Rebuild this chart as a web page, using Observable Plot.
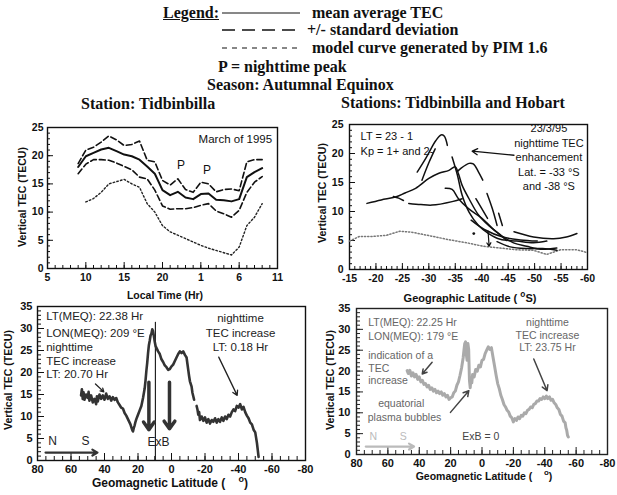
<!DOCTYPE html>
<html><head><meta charset="utf-8">
<script src="https://cdn.jsdelivr.net/npm/d3@7"></script>
<script src="https://cdn.jsdelivr.net/npm/@observablehq/plot@0.6"></script>
<style>
html,body{margin:0;padding:0;background:#fff;}
#root{position:relative;width:617px;height:495px;overflow:hidden;background:#fff;font-family:"Liberation Sans",Arial,sans-serif;color:#111;}
.t{position:absolute;white-space:nowrap;line-height:1;transform:translateY(-50%);}
.c{transform:translate(-50%,-50%);}
.r{transform:translate(-50%,-50%) rotate(-90deg);}
.serif{font-family:"Liberation Serif","Times New Roman",serif;font-weight:bold;font-size:16px;color:#111;}
.ax{font-family:"Liberation Sans",Arial,sans-serif;font-weight:bold;font-size:10.5px;color:#111;}
sup{font-size:0.75em;vertical-align:0.55em;line-height:0;}
</style></head><body><div id="root"></div>
<script>
// ---------- Top-left: Tidbinbilla, March 1995 (hours; 25 = 1 h, 30 = 6 h next day) ----------
const tlHours = [9,10,11,12,13,14,15,16,17,18,19,20,21,22,23,24,25,26,27,28,29,30,31,32,33];
const tlMean  = [18.0,19.9,20.5,21.1,21.4,20.8,20.2,19.9,19.3,18.1,16.8,13.9,13.0,13.6,12.6,12.3,13.2,13.3,12.2,12.1,11.9,12.3,16.2,17.1,17.8];
const tlUpper = [18.6,21.0,21.5,22.4,23.5,22.8,21.8,22.0,22.6,19.2,18.9,15.6,14.8,15.9,14.0,13.5,15.3,15.0,13.6,14.0,14.1,13.8,18.9,19.3,19.3];
const tlLower = [16.8,18.5,19.3,19.3,19.2,18.7,18.1,17.5,16.2,15.9,13.9,11.1,10.5,10.6,10.6,10.8,11.2,11.5,10.2,9.7,9.1,10.3,13.5,15.3,16.3];
const tlModelHours = [10,11,12,13,14,15,16,17,18,19,20,21,22,23,24,25,26,27,28,29,30,31,32,33];
const tlModel = [11.8,12.4,13.5,15.0,15.4,15.8,15.0,14.4,11.5,10.0,7.6,6.5,5.9,5.3,4.7,4.1,3.6,3.2,2.8,2.4,3.8,7.6,9.1,11.5];
const tlTickHours = [5,10,15,20,25,30,35];
const tlTickLabels = ["5","10","15","20","1","6","11"];
const tlYTicks = [0,5,10,15,20,25];
const tlPeaks = [{h:22.4,v:18.4},{h:25.8,v:17.5}];

// ---------- Top-right: Tidbinbilla and Hobart, 23/3/95 (geographic latitude, TEC) ----------
const trModelLat = [-15,-16.9,-19.4,-22,-24.5,-26,-27,-30.8,-34,-37.2,-40.3,-43.5,-46.6,-49.8,-52.3,-54.9,-58,-60];
const trModelTec = [4.9,5.7,5.7,5.9,6.6,6.5,6.4,5.7,5.1,4.6,4.0,3.7,3.4,3.3,2.6,3.4,3.4,2.9];
const trBroad  = [[-18.3,11.4],[-21,12.0],[-23.7,12.5],[-25.5,13.2],[-27.5,14.0],[-30,15.7],[-31.9,16.6],[-33.8,17.1],[-35,17.7],[-35.6,16.5],[-36.3,14.5],[-37.6,12.2],[-39.4,9.4],[-41.3,7.6],[-43.5,6.0],[-46,4.6],[-48.5,4.0],[-51.1,3.5],[-54.2,3.7]];
const trPeakA  = [[-27.8,16.8],[-29.5,19.3],[-31.3,22.2],[-32.3,23.2],[-32.9,23.0],[-33.5,21.4]];
const trPeakB  = [[-28.7,15.4],[-30,18.4],[-31.2,20.8]];
const trPeak38 = [[-35.4,16.9],[-36,17.4],[-37.6,18.3],[-38.4,18.2],[-39.4,16.8],[-40.2,15.4]];
const trFlat   = [[-26.2,11.4],[-28.5,11.2],[-30.6,11.1],[-34.4,11.7],[-36.3,12.2]];
const trBranch = [[-23.3,12.6],[-24.3,12.3],[-25.2,11.9]];
const trSteep1 = [[-34.4,19.4],[-35.4,16.3],[-36.3,12.8],[-37.6,9.9],[-39.4,7.6],[-41.3,6.2],[-43.5,5.2],[-46.6,4.9],[-49.8,4.6],[-52.3,4.9]];
const trSteep2 = [[-33.1,14.0],[-34.4,13.8],[-35.6,12.2],[-37.5,10.5],[-40.1,8.8],[-42,7.1],[-44.7,5.0]];
const trSteep3 = [[-38.9,12.2],[-41.1,8.8]];
const trSteep4 = [[-41,13.1],[-42,10.5],[-42.9,7.6]];
const trSteep5 = [[-43.2,9.7],[-43.9,7.6]];
const trRight  = [[-46.1,6.5],[-49.8,5.6],[-53.6,5.3],[-56,5.6],[-58,6.2]];
const trLow    = [[-42.9,4.8],[-45.4,3.9],[-48.6,3.6],[-51.5,3.6],[-54.2,3.3]];
const trMid    = [[-38,8.5],[-40.5,6.9],[-44,5.6],[-47.3,5.1],[-50.5,4.9]];
const trDots   = [[-38.5,6.2]];
const trTickLats = [-15,-20,-25,-30,-35,-40,-45,-50,-55,-60];
const trYTicks = [0,5,10,15,20,25];

// ---------- Bottom-left: LT(MEQ) 22.38 Hr (geomagnetic latitude, TEC) ----------
const blNorthLat = [54,53.5,53,52.5,52,51,50,49.5,49,48,47,46,45,44.5,44,43,42,41,40,39,38,37,36,35,34,33,32,31,30,29,28,27,26,25,24.5,24,23.5,23,22.5,22,21.5,21,20,19,18,17,16,15.5,15,14.5,14,13.5,13,12.5,12,11.5,11,10.5,10,9.5,9,8,7,6,5,4,3,2,1,0,-1,-2,-3,-4,-5,-6,-7,-8,-9,-9.5,-10,-10.5,-11,-12,-12.5,-13,-13.5];
const blNorthTec = [14.8,16.2,14.0,15.5,13.8,15.0,14.2,15.6,13.6,14.8,13.2,14.0,12.8,14.6,13.4,15.0,14.0,14.8,13.8,15.2,14.0,14.6,13.6,14.4,13.8,14.2,13.2,12.6,12.0,11.8,10.8,10.2,9.4,8.6,8.2,7.6,7.0,6.6,7.4,8.0,8.8,9.4,10.4,11.4,12.4,14.2,16.4,18.2,20.4,22.2,24.4,26.2,27.2,28.4,28.8,29.8,29.4,28.2,27.0,26.0,25.6,24.8,24.2,23.0,22.4,21.6,21.2,20.6,20.8,21.4,21.8,22.6,23.4,24.2,24.8,24.4,24.8,24.0,23.4,22.0,20.6,19.2,18.0,16.8,15.4,14.6,13.8];
const blSouthLat = [-15,-15.5,-16,-16.5,-17,-18,-19,-20,-21,-22,-23,-24,-25,-26,-27,-28,-29,-30,-31,-32,-33,-34,-35,-36,-37,-38,-39,-40,-41,-42,-43,-44,-45,-46,-47,-48,-49,-50,-50.5,-51,-51.5,-52];
const blSouthTec = [12.4,11.6,10.4,11.0,9.2,10.0,9.0,9.8,8.6,9.4,8.4,9.2,8.8,9.6,8.6,9.4,8.8,9.8,9.0,10.0,9.4,10.4,10.0,11.0,11.6,11.2,12.4,12.0,12.8,11.6,12.2,11.0,10.2,9.6,8.6,8.2,7.0,6.4,5.2,4.0,2.4,0.8];
const blDownArrows = [{lat:13.5,from:17.8,to:7.0},{lat:1.2,from:17.8,to:7.2}];
const blVLine = [{lat:9.6,top:31.4}];
const blTickLats = [80,60,40,20,0,-20,-40,-60,-80];
const blYTicks = [0,5,10,15,20,25,30,35];

// ---------- Bottom-right: LT(MEQ) 22.25 Hr ----------
const brLat = [47.7,47,46,45,44,43,42,41,40,39,38,37,36,35,34,33,32,31,30,29,28,27,26,25,24,23,22,21,20,19,18,17,16,15,14,13,12,11.5,11,10.5,10,9.5,9,8.5,8,7.5,7,6.5,6,5,4,3,2,1,0,-1,-2,-3,-4,-5,-6,-7,-8,-9,-10,-11,-12,-13,-14,-15,-16,-17,-18,-19,-20,-21,-22,-23,-24,-25,-26,-27,-28,-29,-30,-31,-32,-33,-34,-35,-36,-37,-38,-39,-40,-41,-42,-43,-44,-45,-46,-47,-48,-49,-50,-51,-52,-53,-53.5,-54,-54.5,-55];
const brTec = [20.1,19.4,20.2,18.8,19.6,18.6,19.2,18.0,18.6,17.4,17.8,16.8,17.0,16.2,16.6,15.6,16.0,15.2,15.6,14.8,15.2,14.6,15.0,14.2,14.6,13.8,14.2,13.2,13.6,13.8,14.8,15.2,16.6,17.4,19.0,20.8,23.2,25.0,26.6,27.0,24.0,22.6,26.6,25.2,17.8,16.0,18.4,17.2,19.2,18.6,20.4,20.0,21.4,21.0,22.6,22.8,24.2,25.0,25.8,25.2,25.6,23.4,21.2,19.0,17.0,15.8,14.2,13.2,12.0,11.4,10.6,10.2,9.2,8.8,7.8,8.6,8.2,9.0,8.6,9.4,9.2,10.0,9.8,10.6,10.8,11.4,11.2,12.0,12.2,12.8,12.8,13.4,13.2,13.8,13.4,14.0,13.4,13.8,13.0,13.2,12.4,12.0,11.2,10.8,9.6,9.2,8.0,7.6,6.4,5.8,4.6,4.2];
const brTickLats = [80,60,40,20,0,-20,-40,-60,-80];
const brYTicks = [0,5,10,15,20,25,30,35];

// ---------- helpers ----------
const root = document.getElementById("root");
function txt(html, left, top, cls, style = "") {
  const d = document.createElement("div");
  d.className = "t " + cls;
  d.style.cssText = `left:${left}px;top:${top}px;${style}`;
  d.innerHTML = html;
  root.appendChild(d);
  return d;
}
function mount(svg, left, top) {
  svg.style.position = "absolute";
  svg.style.left = left + "px";
  svg.style.top = top + "px";
  root.appendChild(svg);
}
const pairs = a => a.map(([x, y]) => ({x, y}));
const zip = (xs, ys) => xs.map((x, i) => ({x, y: ys[i]}));
const SANS = "Liberation Sans, Arial, sans-serif";

function frameAxes(o) {
  const ink = o.ink || "#111";
  const tk = {label: null, tickFormat: () => "", stroke: ink, strokeWidth: 1};
  const xf = o.xFmt || (d => String(d));
  return [
    Plot.axisX(o.xMinor, {...tk, tickSize: -(o.minor || 3)}),
    Plot.axisX(o.xMajor, {...tk, tickSize: -(o.major || 6)}),
    Plot.axisY(o.yMinor, {...tk, tickSize: -(o.minor || 3)}),
    Plot.axisY(o.yMajor, {...tk, tickSize: -(o.major || 6)}),
    Plot.axisX(o.xTicks, {label: null, tickSize: 0, tickPadding: o.xPad ?? 4, tickFormat: xf, fontSize: o.fs || 11, fontWeight: "bold"}),
    Plot.axisY(o.yTicks, {label: null, tickSize: 0, tickPadding: o.yPad ?? 4, tickFormat: d => String(d), fontSize: o.fs || 11, fontWeight: "bold"}),
    Plot.frame({stroke: ink, strokeWidth: 1.4})
  ];
}
const baseStyle = {background: "transparent", overflow: "visible", fontFamily: SANS, color: "#111"};

// ---------- legend & titles ----------
txt('<span style="text-decoration:underline">Legend:</span>', 163, 13, "serif");
root.insertAdjacentHTML("beforeend",
  `<svg style="position:absolute;left:0;top:0" width="617" height="60">
     <line x1="222" x2="300" y1="13" y2="13" stroke="#111" stroke-width="1"/>
     <line x1="222" x2="300" y1="30" y2="30" stroke="#111" stroke-width="1.5" stroke-dasharray="13,7"/>
     <line x1="222" x2="300" y1="48" y2="48" stroke="#111" stroke-width="1.2" stroke-dasharray="5,5"/>
   </svg>`);
txt("mean average TEC", 312, 13, "serif");
txt("+/- standard deviation", 307, 30, "serif");
txt("model curve generated by PIM 1.6", 312, 48, "serif");
txt("P = nighttime peak", 218, 67, "serif");
txt("Season: Autumnal Equinox", 207, 85, "serif");
txt("Station: Tidbinbilla", 81, 104, "serif");
txt("Stations: Tidbinbilla and Hobart", 341, 103, "serif");

// ---------- top-left plot ----------
const tlFmt = d => tlTickLabels[tlTickHours.indexOf(d)];
mount(Plot.plot({
  width: 300, height: 180, marginLeft: 47, marginRight: 23, marginTop: 12, marginBottom: 27,
  style: baseStyle,
  x: {domain: [5, 35]}, y: {domain: [0, 25]},
  marks: [
    ...frameAxes({xMinor: d3.range(6, 35), xMajor: tlTickHours.slice(1, -1), xTicks: tlTickHours, xFmt: tlFmt,
                  yMinor: d3.range(1, 25), yMajor: tlYTicks.slice(1, -1), yTicks: tlYTicks, xPad: 5, yPad: 4, fs: 10.5}),
    Plot.line(zip(tlModelHours, tlModel), {x: "x", y: "y", stroke: "#222", strokeWidth: 1.4, strokeDasharray: "1.6,2.2"}),
    Plot.line(zip(tlHours, tlUpper), {x: "x", y: "y", stroke: "#111", strokeWidth: 1.6, strokeDasharray: "6,3"}),
    Plot.line(zip(tlHours, tlLower), {x: "x", y: "y", stroke: "#111", strokeWidth: 1.6, strokeDasharray: "6,3"}),
    Plot.line(zip(tlHours, tlMean), {x: "x", y: "y", stroke: "#111", strokeWidth: 2}),
    Plot.text(tlPeaks, {x: "h", y: "v", text: () => "P", fontSize: 12, fill: "#111"}),
    Plot.text(["March of 1995"], {x: 34.3, y: 22.9, text: d => d, textAnchor: "end", fontSize: 11.5, fill: "#111"})
  ]
}), 0, 115);
txt("Local Time (Hr)", 165, 295, "ax c");
txt("Vertical TEC (TECU)", 22, 197, "ax r");

// ---------- top-right plot ----------
const trLines = [trBroad, trPeakA, trPeakB, trPeak38, trFlat, trBranch, trSteep1, trSteep2, trSteep3, trSteep4, trSteep5, trRight, trLow, trMid];
mount(Plot.plot({
  width: 317, height: 185, marginLeft: 49, marginRight: 30, marginTop: 14, marginBottom: 26,
  style: baseStyle,
  x: {domain: [-15, -60]}, y: {domain: [0, 25]},
  marks: [
    ...frameAxes({xMinor: d3.range(-16, -60, -1), xMajor: trTickLats.slice(1, -1), xTicks: trTickLats,
                  yMinor: d3.range(1, 25), yMajor: trYTicks.slice(1, -1), yTicks: trYTicks, xPad: 5, yPad: 6, fs: 10.5}),
    Plot.line(zip(trModelLat, trModelTec), {x: "x", y: "y", stroke: "#777", strokeWidth: 1.5, strokeDasharray: "1.2,2"}),
    ...trLines.map(seg => Plot.line(pairs(seg), {x: "x", y: "y", stroke: "#111", strokeWidth: 1.5, curve: "catmull-rom"})),
    Plot.dot(pairs(trDots), {x: "x", y: "y", r: 1.4, fill: "#111"}),
    Plot.arrow([{x1: -41.2, y1: 6.6, x2: -41.4, y2: 4.0}], {x1: "x1", y1: "y1", x2: "x2", y2: "y2", stroke: "#111", strokeWidth: 1.2, headLength: 5}),
    Plot.arrow([{x1: -46.1, y1: 19.7, x2: -38.2, y2: 20.4}], {x1: "x1", y1: "y1", x2: "x2", y2: "y2", stroke: "#111", strokeWidth: 1.3, headLength: 7}),
    Plot.text(["LT = 23 - 1", "Kp = 1+ and 2-"], {x: -17.1, y: (d, i) => [22.9, 20.3][i], text: d => d, textAnchor: "start", fontSize: 11, fill: "#111"}),
    Plot.text(["23/3/95", "nighttime TEC", "enhancement", "Lat. = -33 °S", "and -38 °S"],
              {x: -52.7, y: (d, i) => [24.3, 21.7, 19.3, 16.8, 14.3][i], text: d => d, fontSize: 11, fill: "#111"})
  ]
}), 300, 110);
txt("Geographic Latitude ( <sup>o</sup>S)", 470, 298, "ax c", "font-size:11px");
txt("Vertical TEC (TECU)", 322, 193, "ax r");

// ---------- bottom-left plot ----------
mount(Plot.plot({
  width: 320, height: 200, marginLeft: 37, marginRight: 15, marginTop: 11, marginBottom: 35,
  style: baseStyle,
  x: {domain: [80, -80]}, y: {domain: [0, 35]},
  marks: [
    ...frameAxes({xMinor: d3.range(75, -80, -5), xMajor: blTickLats.slice(1, -1), xTicks: blTickLats,
                  yMinor: d3.range(1, 35), yMajor: blYTicks.slice(1, -1), yTicks: blYTicks, xPad: 5, yPad: 5, fs: 11, minor: 4, major: 7}),
    Plot.ruleX(blVLine, {x: "lat", y1: 0, y2: "top", stroke: "#222", strokeWidth: 1.2}),
    Plot.line(zip(blNorthLat, blNorthTec), {x: "x", y: "y", stroke: "#333", strokeWidth: 2.6}),
    Plot.line(zip(blSouthLat, blSouthTec), {x: "x", y: "y", stroke: "#333", strokeWidth: 2.6}),
    Plot.arrow(blDownArrows, {x1: "lat", x2: "lat", y1: "from", y2: "to", stroke: "#333", strokeWidth: 3.5, headLength: 4, headAngle: 70}),
    Plot.arrow([{x1: 45.4, y1: 17.4, x2: 40.4, y2: 15.6}, {x1: -28.2, y1: 23.5, x2: -39.2, y2: 14.8}],
               {x1: "x1", y1: "y1", x2: "x2", y2: "y2", stroke: "#222", strokeWidth: 1.3, headLength: 6}),
    Plot.arrow([{x1: 75.2, x2: 44.2, y: 1.8}], {x1: "x1", x2: "x2", y1: "y", y2: "y", stroke: "#333", strokeWidth: 2.2, headLength: 4}),
    Plot.text(["LT(MEQ): 22.38 Hr", "LON(MEQ): 209 °E", "nighttime", "TEC increase", "LT: 20.70 Hr"],
              {x: 74.8, y: (d, i) => [32.8, 29.0, 25.8, 22.6, 19.5][i], text: d => d, textAnchor: "start", fontSize: 11.5, fill: "#222"}),
    Plot.text(["nighttime", "TEC increase", "LT: 0.18 Hr"],
              {x: -41.2, y: (d, i) => [32.3, 28.9, 25.8][i], text: d => d, fontSize: 11.5, fill: "#222"}),
    Plot.text(["N", "S", "ExB"], {x: (d, i) => [71, 51.3, 7.8][i], y: (d, i) => [4.3, 4.3, 4.2][i], text: d => d, fontSize: 12, fill: "#222"})
  ]
}), 0, 295);
txt("Geomagnetic Latitude ( &nbsp; &nbsp;<sup>o</sup>)", 170, 483, "ax c", "font-size:12px");
txt("Vertical TEC (TECU)", 8, 380, "ax r");

// ---------- bottom-right plot ----------
mount(Plot.plot({
  width: 307, height: 200, marginLeft: 46, marginRight: 10, marginTop: 13, marginBottom: 41,
  style: baseStyle,
  x: {domain: [80, -80]}, y: {domain: [0, 35]},
  marks: [
    ...frameAxes({xMinor: d3.range(75, -80, -5), xMajor: brTickLats.slice(1, -1), xTicks: brTickLats,
                  yMinor: d3.range(1, 35), yMajor: brYTicks.slice(1, -1), yTicks: brYTicks, xPad: 5, yPad: 6, fs: 11, minor: 4, major: 7, ink: "#222"}),
    Plot.line(zip(brLat, brTec), {x: "x", y: "y", stroke: "#aaa", strokeWidth: 3}),
    Plot.arrow([{x1: 31.8, y1: 22.1, x2: 38.1, y2: 19.3}, {x1: 20.1, y1: 10.1, x2: 8.4, y2: 15.3}, {x1: -33, y1: 22.9, x2: -41.5, y2: 15.3}],
               {x1: "x1", y1: "y1", x2: "x2", y2: "y2", stroke: "#444", strokeWidth: 1.5, headLength: 6}),
    Plot.arrow([{x1: 74.1, x2: 43.3, y: 1.9}], {x1: "x1", x2: "x2", y1: "y", y2: "y", stroke: "#bbb", strokeWidth: 2.2, headLength: 4}),
    Plot.text(["LT(MEQ): 22.25 Hr", "LON(MEQ): 179 °E", "indication of a", "TEC", "increase"],
              {x: 72.5, y: (d, i) => [31.5, 28.3, 23.7, 20.6, 17.7][i], text: d => d, textAnchor: "start", fontSize: 10.5, fill: "#666"}),
    Plot.text(["equatorial", "plasma bubbles"], {x: (d, i) => [51.5, 49.4][i], y: (d, i) => [12.2, 8.9][i], text: d => d, fontSize: 10.5, fill: "#666"}),
    Plot.text(["nighttime", "TEC increase", "LT: 23.75 Hr"],
              {x: -41.7, y: (d, i) => [31.7, 28.5, 25.7][i], text: d => d, fontSize: 10.5, fill: "#666"}),
    Plot.text(["ExB = 0"], {x: 0.8, y: 4.4, text: d => d, fontSize: 10.5, fill: "#444"}),
    Plot.text(["N", "S"], {x: (d, i) => [69.3, 50.2][i], y: 4.2, text: d => d, fontSize: 10.5, fill: "#bbb"})
  ]
}), 310, 295);
txt("Geomagnetic Latitude ( &nbsp; &nbsp;<sup>o</sup>)", 484, 476, "ax c", "font-size:10.5px");
txt("Vertical TEC (TECU)", 330, 380, "ax r");
</script></body></html>
